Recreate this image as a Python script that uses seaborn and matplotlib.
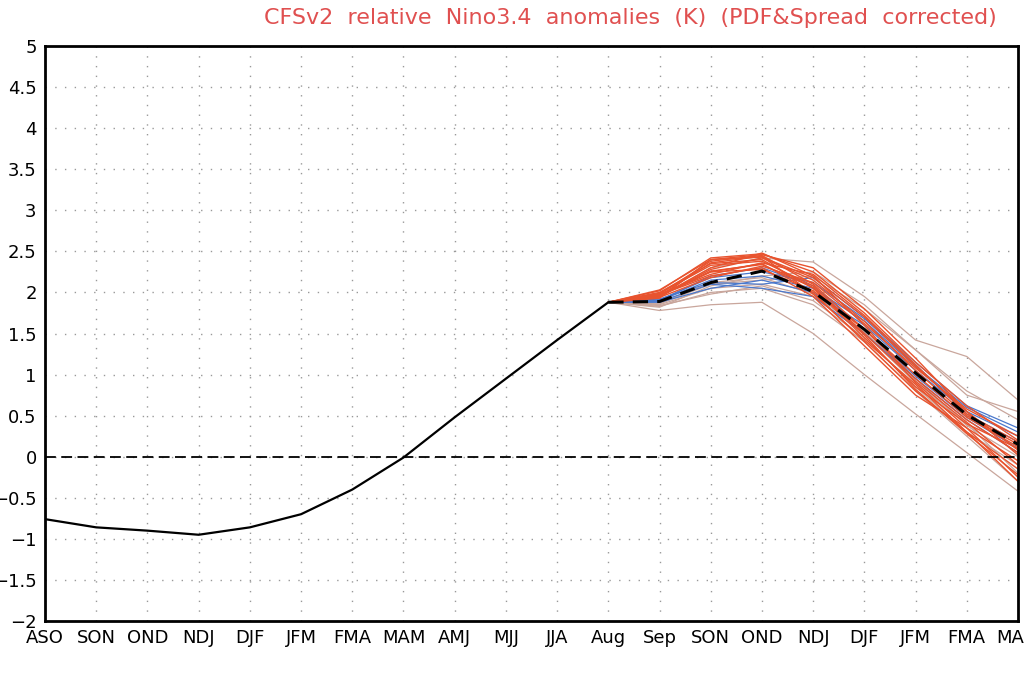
import matplotlib
matplotlib.use("Agg")
import matplotlib.pyplot as plt
import seaborn as sns
import pandas as pd
import numpy as np

# season labels along the x axis
seasons = ["ASO", "SON", "OND", "NDJ", "DJF", "JFM", "FMA", "MAM", "AMJ", "MJJ",
           "JJA", "Aug", "Sep", "SON", "OND", "NDJ", "DJF", "JFM", "FMA", "MAM"]

# observed anomalies (ASO .. Aug)
observed = [-0.76, -0.86, -0.90, -0.95, -0.86, -0.70, -0.40, -0.01,
            0.48, 0.95, 1.42, 1.88]

# ensemble mean forecast (Aug .. MAM)
ens_mean = [1.88, 1.89, 2.12, 2.26, 2.01, 1.55, 1.02, 0.51, 0.15]

# ensemble members (Aug .. MAM)
red_members = [
    [1.88, 2.02, 2.42, 2.47, 2.25, 1.75, 1.15, 0.62, 0.20],
    [1.88, 1.98, 2.38, 2.45, 2.10, 1.55, 0.95, 0.45, 0.05],
    [1.88, 1.95, 2.30, 2.48, 2.20, 1.60, 0.90, 0.35, -0.05],
    [1.88, 2.00, 2.35, 2.40, 2.05, 1.45, 0.85, 0.40, 0.10],
    [1.88, 1.96, 2.25, 2.35, 2.00, 1.40, 0.80, 0.30, -0.15],
    [1.88, 1.93, 2.40, 2.46, 2.30, 1.80, 1.20, 0.55, 0.02],
    [1.88, 1.97, 2.20, 2.30, 1.95, 1.35, 0.75, 0.35, -0.25],
    [1.88, 1.95, 2.28, 2.42, 2.15, 1.65, 1.05, 0.50, 0.15],
    [1.88, 1.99, 2.33, 2.38, 2.08, 1.50, 0.92, 0.42, -0.10],
    [1.88, 1.94, 2.18, 2.32, 2.12, 1.62, 1.08, 0.58, 0.25],
    [1.88, 1.96, 2.36, 2.44, 1.98, 1.42, 0.88, 0.30, -0.30],
    [1.88, 1.97, 2.25, 2.28, 2.02, 1.55, 1.00, 0.48, 0.12],
    [1.88, 2.03, 2.40, 2.43, 2.18, 1.70, 1.10, 0.55, 0.08],
    [1.88, 1.98, 2.22, 2.36, 2.22, 1.72, 1.12, 0.52, 0.18],
    [1.88, 1.95, 2.26, 2.34, 2.06, 1.48, 0.82, 0.28, -0.22],
]
blue_members = [
    [1.88, 1.90, 2.15, 2.20, 2.05, 1.65, 1.10, 0.60, 0.30],
    [1.88, 1.88, 2.05, 2.15, 2.00, 1.60, 1.05, 0.55, 0.25],
    [1.88, 1.92, 2.12, 2.10, 2.18, 1.70, 1.15, 0.62, 0.35],
    [1.88, 1.90, 2.20, 2.30, 2.08, 1.55, 0.98, 0.48, 0.10],
    [1.88, 1.89, 2.10, 2.05, 1.95, 1.50, 0.95, 0.45, 0.05],
    [1.88, 1.91, 2.18, 2.25, 2.12, 1.68, 1.12, 0.52, 0.18],
]
tan_members = [
    [1.88, 1.85, 2.05, 2.10, 1.95, 1.50, 0.90, 0.40, -0.20],
    [1.88, 1.95, 2.30, 2.42, 2.37, 1.95, 1.42, 1.22, 0.69],
    [1.88, 1.78, 1.85, 1.88, 1.50, 1.00, 0.52, 0.05, -0.42],
    [1.88, 1.83, 2.00, 2.05, 1.85, 1.40, 0.80, 0.25, -0.30],
    [1.88, 1.86, 2.10, 2.15, 2.20, 1.80, 1.30, 0.80, 0.45],
    [1.88, 1.84, 1.98, 2.08, 1.90, 1.45, 0.85, 0.30, -0.10],
    [1.88, 1.82, 2.08, 2.20, 2.25, 1.85, 1.30, 0.75, 0.55],
    [1.88, 1.87, 2.12, 2.18, 1.98, 1.52, 0.95, 0.38, 0.00],
]

sns.set_style("white")
plt.rcParams["font.family"] = ["DejaVu Sans"]

fig = plt.figure(figsize=(10.24, 6.73), dpi=100)
ax = fig.add_axes([45 / 1024, 1 - 621 / 673, 973 / 1024, 575 / 673])

fc_x = list(range(11, 20))
rows = []
for grp, members in [("tan", tan_members), ("blue", blue_members), ("red", red_members)]:
    for i, vals in enumerate(members):
        for x, v in zip(fc_x, vals):
            rows.append({"x": x, "y": v, "member": f"{grp}{i}", "group": grp})
ens = pd.DataFrame(rows)

palette = {"tan": "#c9a69c", "blue": "#4a78cc", "red": "#e8532e"}
for grp, lw in [("tan", 0.9), ("blue", 0.9), ("red", 1.0)]:
    sns.lineplot(data=ens[ens.group == grp], x="x", y="y", units="member",
                 estimator=None, color=palette[grp], lw=lw, ax=ax, legend=False)

obs = pd.DataFrame({"x": range(len(observed)), "y": observed})
sns.lineplot(data=obs, x="x", y="y", color="black", lw=1.6, ax=ax)

mean_df = pd.DataFrame({"x": fc_x, "y": ens_mean})
sns.lineplot(data=mean_df, x="x", y="y", color="black", lw=2.2, ax=ax,
             linestyle=(0, (5, 3)))

ax.axhline(0, color="black", lw=1.3, linestyle=(0, (6, 3)))

ax.set_xlim(0, 19)
ax.set_ylim(-2, 5)
ax.set_xticks(range(len(seasons)))
ax.set_xticklabels(seasons)
yt = np.arange(-2, 5.01, 0.5)
ax.set_yticks(yt)
ax.set_yticklabels([f"{v:g}".replace("-", "\u2212") for v in yt])
ax.set_xlabel("")
ax.set_ylabel("")
ax.grid(True, color="#999999", lw=1.0, linestyle=(0, (1, 6)))
ax.tick_params(axis="both", direction="out", length=4, width=1.2, color="black",
               labelcolor="black", labelsize=13, pad=2)
for s in ax.spines.values():
    s.set_color("black")
    s.set_linewidth(2)

fig.text(630 / 1024, 1 - 18 / 673, "CFSv2  relative  Nino3.4  anomalies  (K)  (PDF&Spread  corrected)",
         color="#e05050", fontsize=16, ha="center", va="center")

fig.savefig("out.png", dpi=100)
